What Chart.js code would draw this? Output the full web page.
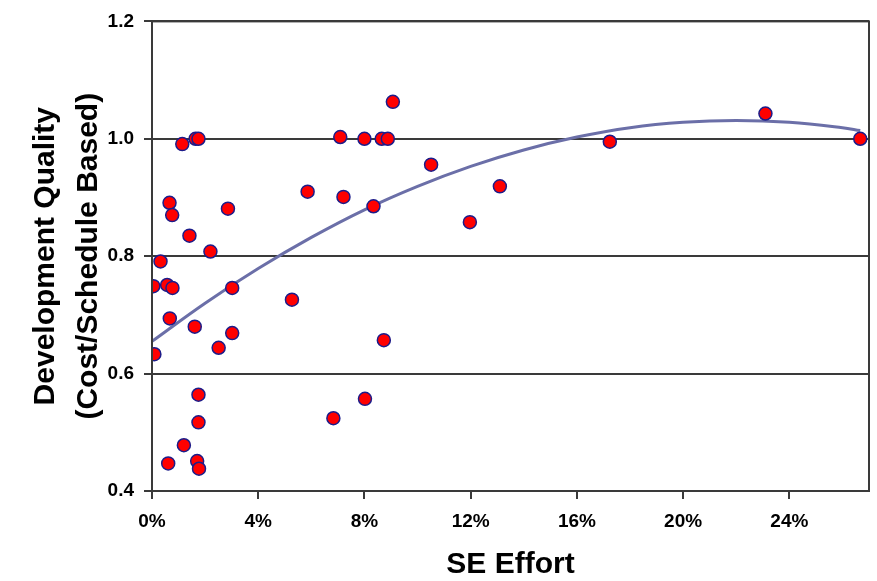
<!DOCTYPE html>
<html>
<head>
<meta charset="utf-8">
<script src="https://cdn.jsdelivr.net/npm/chart.js@4/dist/chart.umd.min.js"></script>
<style>
  html, body { margin: 0; padding: 0; background: #fff; }
  #wrap { width: 877px; height: 581px; }
</style>
</head>
<body>
<div id="wrap"><canvas id="chart" width="877" height="581"></canvas></div>
<script>
// SE effort (fraction of total) for each project
const seEffort = [
  0.0005, 0.0009, 0.0032, 0.0057, 0.0066, 0.0076, 0.0077, 0.0067, 0.0061,
  0.0114, 0.0164, 0.0175, 0.0141, 0.0161, 0.0175, 0.0175, 0.0120, 0.0170,
  0.0177, 0.0220, 0.0286, 0.0302, 0.0302, 0.0251, 0.0527, 0.0586, 0.0709,
  0.0721, 0.0683, 0.0802, 0.0800, 0.0865, 0.0888, 0.0907, 0.0834, 0.0873,
  0.1051, 0.1197, 0.1310, 0.1724, 0.2310, 0.2667
];
// development quality (cost/schedule based) for each project
const devQuality = [
  0.749, 0.633, 0.791, 0.751, 0.891, 0.870, 0.746, 0.694, 0.447,
  0.991, 1.000, 1.000, 0.835, 0.680, 0.564, 0.517, 0.478, 0.451,
  0.438, 0.808, 0.881, 0.746, 0.669, 0.644, 0.726, 0.910, 1.003,
  0.901, 0.524, 0.557, 1.000, 1.000, 1.000, 1.063, 0.885, 0.657,
  0.956, 0.858, 0.919, 0.995, 1.043, 1.000
];
// polynomial trendline, values
const trendX = [0, 0.02, 0.04, 0.06, 0.08, 0.10, 0.12, 0.14, 0.16, 0.18, 0.20, 0.22, 0.24, 0.26, 0.2667];
const trendY = [0.655, 0.720, 0.779, 0.832, 0.879, 0.919, 0.953, 0.981, 1.003, 1.019, 1.028, 1.031, 1.028, 1.019, 1.014];
const yTicks = [0.4, 0.6, 0.8, 1.0, 1.2];
const xTicks = [0, 0.04, 0.08, 0.12, 0.16, 0.20, 0.24];

const points = seEffort.map((x, i) => ({ x: x, y: devQuality[i] }));
const trend = trendX.map((x, i) => ({ x: x, y: trendY[i] }));
const FONT = '"Liberation Sans", Arial, sans-serif';

// box around the plot area
const frame = {
  id: 'frame',
  afterDatasetsDraw(chart) {
    const { ctx, chartArea: a } = chart;
    ctx.save();
    ctx.strokeStyle = '#3a3a3a';
    ctx.lineWidth = 2;
    ctx.strokeRect(a.left, a.top, a.right - a.left, a.bottom - a.top);
    ctx.restore();
  }
};

new Chart(document.getElementById('chart'), {
  type: 'scatter',
  data: {
    datasets: [
      {
        label: 'Projects',
        data: points,
        order: 0,
        pointRadius: 6.5,
        pointHoverRadius: 6.5,
        pointBackgroundColor: '#ff0000',
        pointBorderColor: '#1c1c8a',
        pointBorderWidth: 1.5,
      },
      {
        label: 'Trend',
        type: 'line',
        data: trend,
        order: 1,
        borderColor: '#6b6fa8',
        borderWidth: 3,
        pointRadius: 0,
        fill: false,
        tension: 0.4,
      },
    ],
  },
  plugins: [frame],
  options: {
    responsive: false,
    animation: false,
    layout: { padding: { left: 0, right: 8, top: 18, bottom: 0 } },
    plugins: {
      legend: { display: false },
      tooltip: { enabled: false },
    },
    scales: {
      x: {
        type: 'linear',
        min: 0,
        max: 0.27,
        afterFit: (s) => { s.height = 90; },
        afterBuildTicks: (s) => { s.ticks = xTicks.map((v) => ({ value: v })); },
        ticks: {
          includeBounds: false,
          padding: 11,
          color: '#000',
          font: { family: FONT, size: 19, weight: 'bold' },
          callback: (v) => Math.round(v * 100) + '%',
        },
        grid: {
          drawOnChartArea: false,
          drawTicks: true,
          tickLength: 8,
          color: '#3a3a3a',
          lineWidth: 2,
        },
        border: { color: '#3a3a3a', width: 2 },
        title: {
          display: true,
          text: 'SE Effort',
          color: '#000',
          padding: { top: 0, bottom: 0 },
          font: { family: FONT, size: 30, weight: 'bold', lineHeight: 1.1 },
        },
      },
      y: {
        min: 0.4,
        max: 1.2,
        afterFit: (s) => { s.width = 152; },
        afterBuildTicks: (s) => { s.ticks = yTicks.map((v) => ({ value: v })); },
        ticks: {
          padding: 10,
          color: '#000',
          font: { family: FONT, size: 19, weight: 'bold' },
          callback: (v) => v.toFixed(1),
        },
        grid: {
          drawTicks: true,
          tickLength: 8,
          color: '#3a3a3a',
          lineWidth: 2,
        },
        border: { color: '#3a3a3a', width: 2 },
        title: {
          display: true,
          text: ['Development Quality', '(Cost/Schedule Based)'],
          color: '#000',
          padding: { top: 24, bottom: 0 },
          font: { family: FONT, size: 30, weight: 'bold', lineHeight: 1.43 },
        },
      },
    },
  },
});
</script>
</body>
</html>
